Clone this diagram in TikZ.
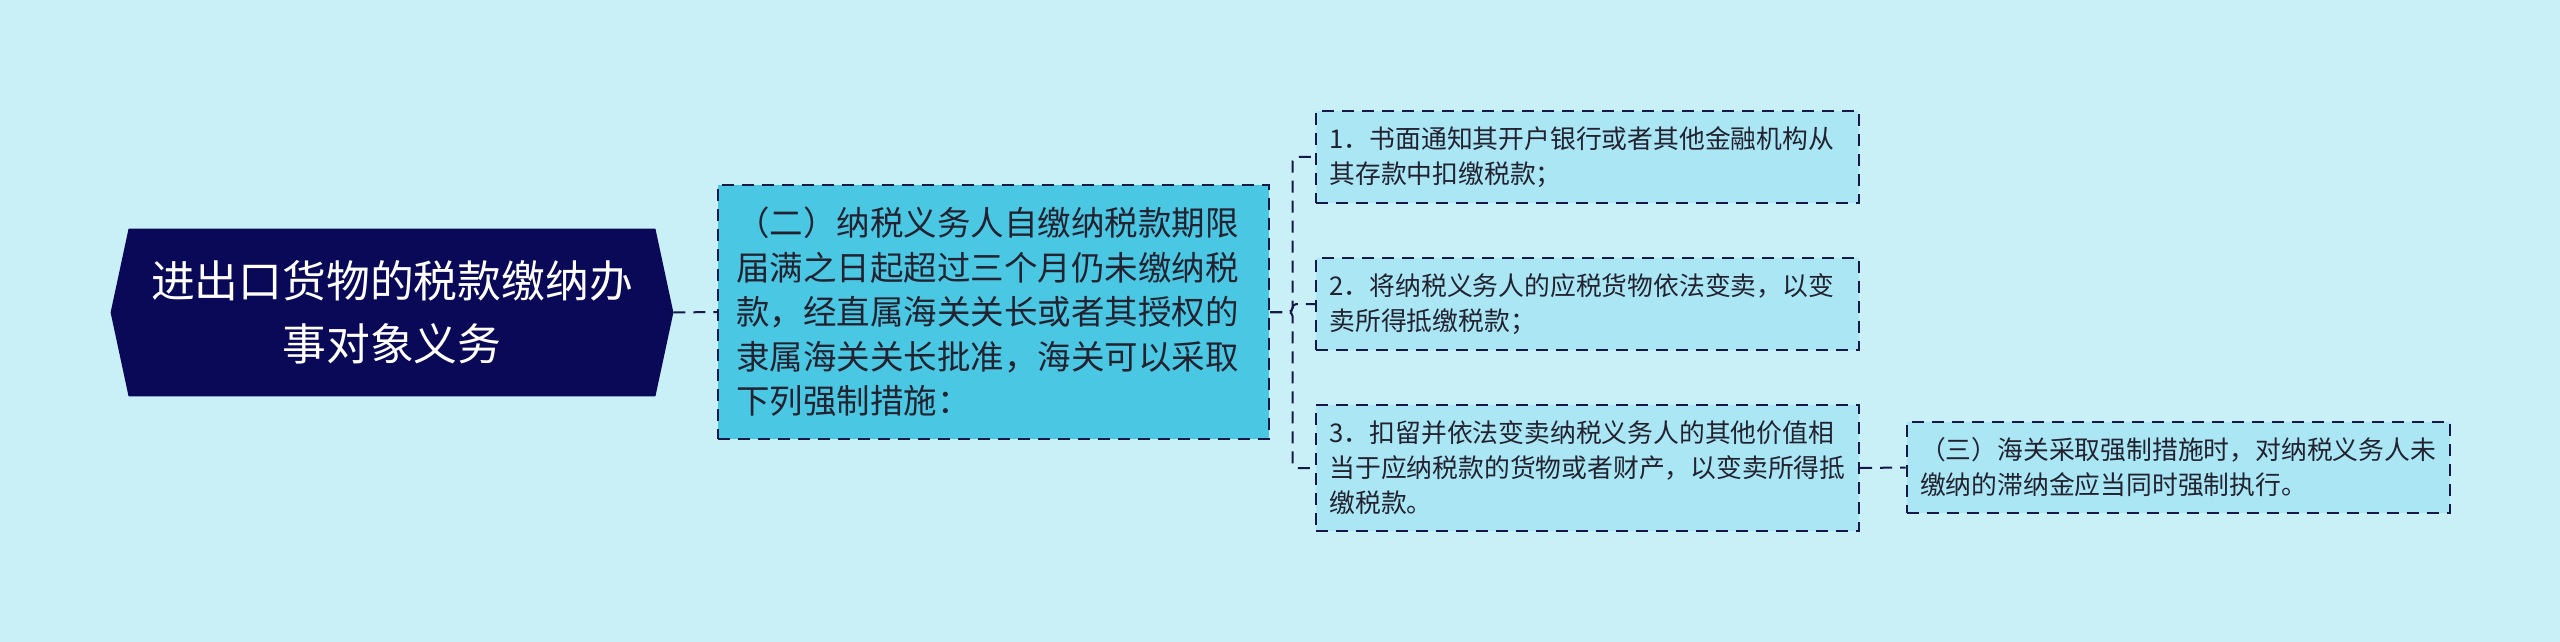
\documentclass[tikz,border=0pt]{standalone}
\usepackage{fontspec}
\setmainfont{Noto Sans CJK SC}
\usetikzlibrary{calc}
\pgfdeclarelayer{background}
\pgfsetlayers{background,main}
\definecolor{bgc}{RGB}{201,239,247}
\definecolor{rootc}{RGB}{10,9,88}
\definecolor{midc}{RGB}{74,200,227}
\definecolor{leafc}{RGB}{170,230,243}
\definecolor{linec}{RGB}{22,24,72}
\definecolor{txtc}{RGB}{34,34,48}
\begin{document}
\begin{tikzpicture}[x=0.5pt,y=-0.5pt,
  rootnode/.style={minimum width=281pt, minimum height=83.5pt, align=center, text=white, inner sep=0pt,
    font=\fontsize{21.9pt}{31.5pt}\selectfont},
  dashbox/.style={draw=linec, line width=1pt, dash pattern=on 6pt off 4pt, text=txtc, align=left, anchor=center, inner ysep=0pt},
  midnode/.style={dashbox, fill=midc, minimum width=275.5pt, text width=257.5pt, inner xsep=9pt, minimum height=127pt,
    font=\fontsize{16.75pt}{22.25pt}\selectfont},
  leaf/.style={dashbox, fill=leafc, minimum width=271.5pt, text width=258pt, inner xsep=6.75pt,
    font=\fontsize{12.9pt}{17.5pt}\selectfont},
  conn/.style={draw=linec, line width=1pt, dash pattern=on 6pt off 4pt, rounded corners=2pt}
]
\useasboundingbox (0,0) rectangle (2560,642);

\node[rootnode] (root) at (392,312.5) {进出口货物的税款缴纳办\\事对象义务};
\node[midnode] (n2) at (993.5,312) {（二）纳税义务人自缴纳税款期限\\届满之日起超过三个月仍未缴纳税\\款，经直属海关关长或者其授权的\\隶属海关关长批准，海关可以采取\\下列强制措施：};
\node[leaf, minimum height=46pt] (c1) at (1587.5,157) {1．书面通知其开户银行或者其他金融机构从\\其存款中扣缴税款；};
\node[leaf, minimum height=46pt] (c2) at (1587.5,304) {2．将纳税义务人的应税货物依法变卖，以变\\卖所得抵缴税款；};
\node[leaf, minimum height=63pt] (c3) at (1587.5,468) {3．扣留并依法变卖纳税义务人的其他价值相\\当于应纳税款的货物或者财产，以变卖所得抵\\缴税款。};
\node[leaf, minimum height=45.5pt] (c4) at (2178,467.5) {（三）海关采取强制措施时，对纳税义务人未\\缴纳的滞纳金应当同时强制执行。};

\coordinate (bus) at (1292.5,312);

\draw[conn] (root.east) -- (n2.west);
\foreach \c in {c1,c2,c3} {
  \draw[conn] (n2.east) -- (bus) |- (\c.west);
}
\draw[conn] (c3.east) -- (c4.west);

\begin{pgfonlayer}{background}
  \fill[bgc] (0,0) rectangle (2560,642);
  \fill[rootc] (root.west) -- ([xshift=9pt]root.north west) -- ([xshift=-9pt]root.north east)
    -- (root.east) -- ([xshift=-9pt]root.south east) -- ([xshift=9pt]root.south west) -- cycle;
\end{pgfonlayer}
\end{tikzpicture}
\end{document}
